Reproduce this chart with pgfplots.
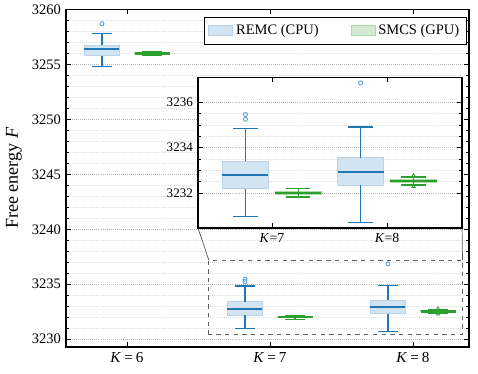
\documentclass[border=0pt]{standalone}
\usepackage{fontspec}
\setmainfont{Liberation Serif}
\usepackage{pgfplots}
\pgfplotsset{compat=1.18}
\definecolor{remc}{HTML}{1F77B4}
\definecolor{remcfill}{HTML}{D2E3F1}
\definecolor{remcedge}{HTML}{B9D3EA}
\definecolor{remcmark}{HTML}{5C9FD6}
\definecolor{smcs}{HTML}{2CA02C}
\definecolor{smcsfill}{HTML}{D2ECD2}
\definecolor{smcsedge}{HTML}{A9DCA9}
% #1 colour name, #2 position, #3 half box width, #4 half cap width,
% #5 lower whisker, #6 lower quartile, #7 median, #8 upper quartile, #9 upper whisker
\newcommand{\BOX}[9]{%
  \pgfmathsetmacro\bxL{#2-#3}\pgfmathsetmacro\bxR{#2+#3}%
  \pgfmathsetmacro\bcL{#2-#4}\pgfmathsetmacro\bcR{#2+#4}%
  \addplot[fill=#1fill, draw=#1edge, line width=0.6pt, forget plot]
    coordinates {(\bxL,#6) (\bxR,#6) (\bxR,#8) (\bxL,#8) (\bxL,#6)};
  \addplot[draw=#1, line width=0.9pt, forget plot, unbounded coords=jump]
    coordinates {(#2,#8) (#2,#9) (nan,nan) (\bcL,#9) (\bcR,#9) (nan,nan) (#2,#6) (#2,#5) (nan,nan) (\bcL,#5) (\bcR,#5)};
  \addplot[draw=#1, line width=1.6pt, forget plot]
    coordinates {(\bxL,#7) (\bxR,#7)};
}
\newcommand{\Keq}[1]{\textit{K}\hspace{0.2em}=\hspace{0.2em}#1}
\pgfplotsset{
  remcout/.style={only marks, mark=o, mark size=1.4pt, mark options={draw=remcmark, line width=0.6pt, fill=none}, forget plot},
  smcsout/.style={only marks, mark=triangle, mark size=1.3pt, mark options={draw=smcs, line width=0.6pt, fill=none}, forget plot},
  commonaxis/.style={
    scale only axis, tick align=inside,
    axis line style={line width=0.8pt},
    every tick/.style={black, line width=0.6pt},
    major tick length=3.5pt, minor tick length=2pt,
    ymajorgrids, yminorgrids,
    major grid style={densely dotted, gray!55, line width=0.4pt},
    minor grid style={densely dotted, gray!28, line width=0.4pt},
    scaled y ticks=false,
    /pgf/number format/assume math mode=true,
    /pgf/number format/1000 sep={},
    /pgf/number format/fixed,
  },
}
\begin{document}
\begin{tikzpicture}
\path[use as bounding box] (-45.5pt,-17.9pt) rectangle (284.1pt,239.3pt);
\begin{axis}[commonaxis, name=main, at={(0pt,0pt)}, anchor=south west,
  width=277.9pt, height=232.8pt,
  xmin=-0.4266, xmax=2.3916, ymin=3229.29, ymax=3260,
  xtick={0,1,2}, xticklabels={\Keq{6},\Keq{7},\Keq{8}},
  ytick={3230,3235,3240,3245,3250,3255,3260}, minor y tick num=4,
  yticklabel style={font=\fontsize{10}{12}\selectfont},
  xticklabel style={font=\fontsize{10.5}{12}\selectfont},
  ylabel={Free energy \textit{F}},
  every axis y label/.style={at={(axis description cs:-0.129,0.5)}, rotate=90, anchor=center, font=\fontsize{12.5}{14}\selectfont},
  legend columns=2,
  legend style={at={(0.995,0.978)}, anchor=north east, draw=black, line width=0.6pt,
    font=\fontsize{10}{12}\selectfont, inner xsep=3pt, inner ysep=3pt,
    /tikz/every even column/.append style={column sep=20pt}},
]
\addlegendimage{legend image code/.code={\draw[fill=remcfill, draw=remcedge, line width=0.6pt] (0pt,-3.5pt) rectangle (16.5pt,3.5pt);}}
\addlegendentry{REMC (CPU)}
\addlegendimage{legend image code/.code={\draw[fill=smcsfill, draw=smcsedge, line width=0.6pt] (0pt,-3.5pt) rectangle (16.5pt,3.5pt);}}
\addlegendentry{SMCS (GPU)}
% K=6
\BOX{remc}{-0.175}{0.1225}{0.068}{3254.8}{3255.8}{3256.4}{3256.75}{3257.8}
\addplot[remcout] coordinates {(-0.175,3258.7)};
\BOX{smcs}{0.175}{0.1225}{0.068}{3255.85}{3255.95}{3256.0}{3256.06}{3256.2}
% K=7
\BOX{remc}{0.825}{0.1225}{0.068}{3230.96}{3232.19}{3232.78}{3233.40}{3234.84}
\addplot[remcout] coordinates {(0.825,3235.25) (0.825,3235.46)};
\BOX{smcs}{1.175}{0.1225}{0.068}{3231.82}{3231.94}{3232.0}{3232.05}{3232.19}
% K=8
\BOX{remc}{1.825}{0.1225}{0.068}{3230.71}{3232.34}{3232.94}{3233.56}{3234.91}
\addplot[remcout] coordinates {(1.825,3236.85)};
\BOX{smcs}{2.175}{0.1225}{0.068}{3232.36}{3232.47}{3232.53}{3232.58}{3232.70}
\addplot[smcsout] coordinates {(2.175,3232.77) (2.175,3232.29)};
% zoom region and connectors
\draw[gray!75!black, dashed, line width=0.7pt] (axis cs:0.573,3230.42) rectangle (axis cs:2.346,3237.17);
\draw[gray!70!black, line width=0.5pt] (axis cs:0.4965,3240.12) -- (axis cs:0.573,3237.17);
\draw[gray!70!black, line width=0.5pt] (axis cs:2.343,3240.12) -- (axis cs:2.346,3237.17);
\end{axis}
\begin{axis}[commonaxis, name=inset, at={(91.0pt,82.1pt)}, anchor=south west,
  width=182.1pt, height=103.9pt,
  axis background/.style={fill=white},
  xmin=0.357, xmax=2.652, ymin=3230.46, ymax=3237.1,
  xtick={1,2}, xticklabels={\textit{K}=7,\textit{K}=8},
  ytick={3232,3234,3236}, minor y tick num=3,
  yticklabel style={font=\fontsize{9}{11}\selectfont},
  xticklabel style={font=\fontsize{9.5}{11}\selectfont},
]
\BOX{remc}{0.77}{0.2}{0.105}{3230.96}{3232.19}{3232.78}{3233.40}{3234.84}
\addplot[remcout] coordinates {(0.77,3235.25) (0.77,3235.46)};
\BOX{smcs}{1.23}{0.2}{0.105}{3231.82}{3231.94}{3232.0}{3232.05}{3232.19}
\BOX{remc}{1.77}{0.2}{0.105}{3230.71}{3232.34}{3232.94}{3233.56}{3234.91}
\addplot[remcout] coordinates {(1.77,3236.85)};
\BOX{smcs}{2.23}{0.2}{0.105}{3232.36}{3232.47}{3232.53}{3232.58}{3232.70}
\addplot[smcsout] coordinates {(2.23,3232.77) (2.23,3232.29)};
\end{axis}
\end{tikzpicture}
\end{document}
